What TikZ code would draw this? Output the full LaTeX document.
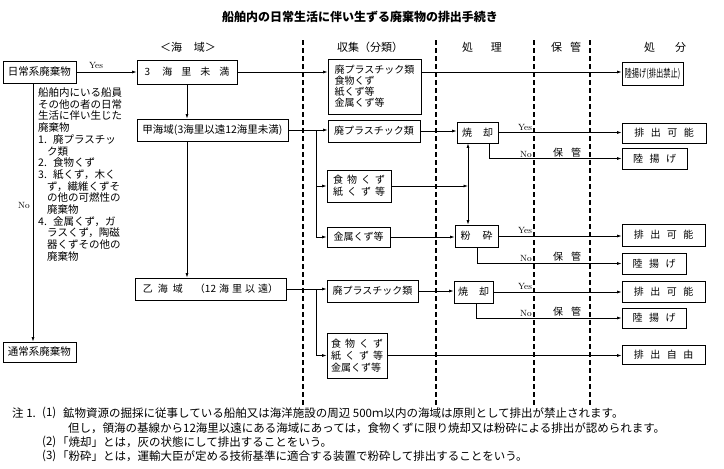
\documentclass[tikz,border=0pt]{standalone}
\usepackage{fontspec}
\usepackage{graphicx}
\newfontfamily\jp{Noto Sans CJK JP}
\usetikzlibrary{arrows.meta}
\begin{document}
\begin{tikzpicture}[x=1pt,y=-1pt,
  box/.style={draw, line width=0.8pt, inner sep=0pt, anchor=center, font=\jp\fontsize{10}{12}\selectfont},
  arr/.style={line width=0.7pt, -{Latex[length=4.5pt,width=3pt]}},
  darr/.style={line width=0.7pt, {Latex[length=4.5pt,width=3pt]}-{Latex[length=4.5pt,width=3pt]}},
  sepline/.style={draw=black, line width=1.2pt, dash pattern=on 5pt off 3pt},
  lbl/.style={font=\fontsize{9}{10}\selectfont, inner sep=0pt},
  jlbl/.style={font=\jp\fontsize{10}{12}\selectfont, inner sep=0pt},
  hdr/.style={font=\jp\fontsize{11}{13}\selectfont, inner sep=0pt},
  note/.style={font=\jp\fontsize{11.5}{13}\selectfont, inner sep=0pt, anchor=west},
]
\fill[white] (0,0) rectangle (724,469);
\useasboundingbox (0,0) rectangle (724,469);

% title and headers
\node[font=\jp\bfseries\fontsize{12}{14}\selectfont, inner sep=0pt] (title) at (360,17) {船舶内の日常生活に伴い生ずる廃棄物の排出手続き};
\node[hdr] (h1) at (188,47) {＜海\hspace{12pt}域＞};
\node[hdr] (h2) at (370,47) {収集（分類）};
\node[hdr] (h3) at (482,47) {処\hspace{18pt}理};
\node[hdr] (h4) at (566,47) {保\hspace{8pt}管};
\node[hdr] (h5) at (665,47) {処\hspace{20pt}分};

% column separators (dashed)
\coordinate (s1t) at (303,40); \coordinate (s1b) at (303,405);
\coordinate (s2t) at (436,40); \coordinate (s2b) at (436,405);
\coordinate (s3t) at (534,40); \coordinate (s3b) at (534,405);
\coordinate (s4t) at (590,40); \coordinate (s4b) at (590,405);
\draw[sepline] (s1t) -- (s1b);
\draw[sepline] (s2t) -- (s2b);
\draw[sepline] (s3t) -- (s3b);
\draw[sepline] (s4t) -- (s4b);

% left column
\node[box, minimum width=73pt, minimum height=22pt, font=\jp\fontsize{10.5}{12}\selectfont] (nichijo) at (39.5,72) {日常系廃棄物};
\node[box, minimum width=73pt, minimum height=20pt, font=\jp\fontsize{10.5}{12}\selectfont] (tsujo) at (39.5,352) {通常系廃棄物};
\node[font=\jp\fontsize{10.5}{11.7}\selectfont, inner sep=0pt, align=left, anchor=north west] (desc) at (38,87.5) {%
船舶内にいる船員\\
その他の者の日常\\
生活に伴い生じた\\
廃棄物\\
\makebox[15pt][l]{1.}廃プラスチッ\\
\hspace*{9pt}ク類\\
\makebox[15pt][l]{2.}食物くず\\
\makebox[15pt][l]{3.}紙くず，木く\\
\hspace*{9pt}ず，繊維くずそ\\
\hspace*{9pt}の他の可燃性の\\
\hspace*{9pt}廃棄物\\
\makebox[15pt][l]{4.}金属くず，ガ\\
\hspace*{9pt}ラスくず，陶磁\\
\hspace*{9pt}器くずその他の\\
\hspace*{9pt}廃棄物};

% sea areas
\node[box, minimum width=100pt, minimum height=24pt] (kai3) at (187,72) {3\hspace{12pt}海\hspace{9pt}里\hspace{9pt}未\hspace{9pt}満};
\node[box, minimum width=151pt, minimum height=22pt, font=\jp\fontsize{10.5}{12}\selectfont] (kou) at (212.5,130) {甲海域(3海里以遠12海里未満)};
\node[box, minimum width=151pt, minimum height=22pt] (otsu) at (210.5,289) {乙\hspace{5pt}海\hspace{5pt}域\hspace{12pt}（12\hspace{3pt}海\hspace{3pt}里\hspace{3pt}以\hspace{3pt}遠）};

% collection
\node[box, minimum width=93pt, minimum height=55pt, align=left, font=\jp\fontsize{10}{11}\selectfont] (c1) at (374.5,86.5) {廃プラスチック類\\食物くず\\紙くず等\\金属くず等};
\node[box, minimum width=92pt, minimum height=22pt] (c2) at (374,131) {廃プラスチック類};
\node[box, minimum width=64pt, minimum height=32pt, align=left, font=\jp\fontsize{10}{12}\selectfont] (c3) at (359,186) {食\hspace{4pt}物\hspace{4pt}く\hspace{4pt}ず\\紙\hspace{4pt}く\hspace{4pt}ず\hspace{4pt}等};
\node[box, minimum width=63pt, minimum height=20pt] (c4) at (358.5,237) {金属くず等};
\node[box, minimum width=91pt, minimum height=22pt] (c5) at (372.5,291) {廃プラスチック類};
\node[box, minimum width=60pt, minimum height=45pt, align=left, font=\jp\fontsize{10}{12}\selectfont] (c6) at (357,355.5) {食\hspace{4pt}物\hspace{4pt}く\hspace{4pt}ず\\紙\hspace{4pt}く\hspace{4pt}ず\hspace{4pt}等\\金属くず等};

% processing
\node[box, minimum width=41pt, minimum height=21pt] (p1) at (477.5,132.5) {焼\hspace{11pt}却};
\node[box, minimum width=43pt, minimum height=22pt] (p2) at (476.5,236) {粉\hspace{12pt}砕};
\node[box, minimum width=39pt, minimum height=22pt] (p3) at (473.5,292) {焼\hspace{11pt}却};

% disposal
\node[box, minimum width=61pt, minimum height=23pt] (d1) at (652.5,73.5) {\fontsize{11}{12}\selectfont\scalebox{0.66}[1]{陸揚げ(排出禁止)}};
\node[box, minimum width=84pt, minimum height=20pt] (d2) at (664,133) {排\hspace{6.5pt}出\hspace{6.5pt}可\hspace{6.5pt}能};
\node[box, minimum width=65pt, minimum height=21pt] (d3) at (654.5,158.5) {陸\hspace{6.5pt}揚\hspace{6.5pt}げ};
\node[box, minimum width=83pt, minimum height=22pt] (d4) at (663.5,235) {排\hspace{6.5pt}出\hspace{6.5pt}可\hspace{6.5pt}能};
\node[box, minimum width=64pt, minimum height=21pt] (d5) at (654,263.5) {陸\hspace{6.5pt}揚\hspace{6.5pt}げ};
\node[box, minimum width=83pt, minimum height=21pt] (d6) at (663.5,291.5) {排\hspace{6.5pt}出\hspace{6.5pt}可\hspace{6.5pt}能};
\node[box, minimum width=64pt, minimum height=20pt] (d7) at (654,318) {陸\hspace{6.5pt}揚\hspace{6.5pt}げ};
\node[box, minimum width=83pt, minimum height=19pt] (d8) at (663.5,355) {排\hspace{6.5pt}出\hspace{6.5pt}自\hspace{6.5pt}由};

% helper coordinates
\coordinate (noL) at (33,0);
\coordinate (jA) at (316,0);
\coordinate (vX) at (468,0);
\coordinate (nA) at (489,0);
\coordinate (nB) at (477,0);
\coordinate (nC) at (476,0);

% connectors
\draw[arr] (nichijo.east) -- (kai3.west);
\draw[arr] (nichijo.south -| noL) -- (tsujo.north -| noL);
\draw[arr] (kai3.south) -- (kai3.south |- kou.north);
\draw[arr] (kai3.south |- kou.south) -- (kai3.south |- otsu.north);
\draw[arr] (kai3.east) -- (kai3.east -| c1.west);
\draw[arr] (kai3.east -| c1.east) -- (kai3.east -| d1.west);

\draw[arr] (kou.east) -- (kou.east -| c2.west);
\draw[arr] (kou.east -| jA) |- (c3.west);
\draw[arr] (kou.east -| jA) |- (c4.west);
\draw[arr] (c2.east) -- (c2.east -| p1.west);
\draw[arr] (c3.east) -- (c3.east -| vX);
\draw[arr] (c4.east) -- (c4.east -| p2.west);
\draw[darr] (p1.south -| vX) -- (p2.north -| vX);

\draw[arr] (p1.east) -- (p1.east -| d2.west);
\draw[arr] (p1.south -| nA) |- (d3.west);
\draw[arr] (p2.east) -- (p2.east -| d4.west);
\draw[arr] (p2.south -| nB) |- (d5.west);

\draw[arr] (otsu.east) -- (otsu.east -| c5.west);
\draw[arr] (otsu.east -| jA) |- (c6.west);
\draw[arr] (c5.east) -- (c5.east -| p3.west);
\draw[arr] (c6.east) -- (c6.east -| d8.west);
\draw[arr] (p3.east) -- (p3.east -| d6.west);
\draw[arr] (p3.south -| nC) |- (d7.west);

% labels
\node[lbl] (yes0) at (96,65) {Yes};
\node[lbl] (no0) at (24,205) {No};
\node[lbl] (yes1) at (525,127) {Yes};
\node[lbl] (no1) at (526,154) {No};
\node[jlbl] (hk1) at (567,153) {保\hspace{8pt}管};
\node[lbl] (yes2) at (525,230) {Yes};
\node[lbl] (no2) at (526,258) {No};
\node[jlbl] (hk2) at (567,257) {保\hspace{8pt}管};
\node[lbl] (yes3) at (525,286) {Yes};
\node[lbl] (no3) at (526,313) {No};
\node[jlbl] (hk3) at (567,312) {保\hspace{8pt}管};

% notes
\node[note] (n0) at (12,413) {注 1.};
\node[note] (n1l) at (42,413) {(1)};
\node[note] (n1) at (63,413) {鉱物資源の掘採に従事している船舶又は海洋施設の周辺 500ｍ以内の海域は原則として排出が禁止されます。};
\node[note] (n1b) at (68,428) {但し，領海の基線から12海里以遠にある海域にあっては，食物くずに限り焼却又は粉砕による排出が認められます。};
\node[note] (n2l) at (42,442) {(2)};
\node[note] (n2) at (57,442) {「焼却」とは，灰の状態にして排出することをいう。};
\node[note] (n3l) at (42,456) {(3)};
\node[note] (n3) at (57,456) {「粉砕」とは，運輸大臣が定める技術基準に適合する装置で粉砕して排出することをいう。};
\end{tikzpicture}
\end{document}
